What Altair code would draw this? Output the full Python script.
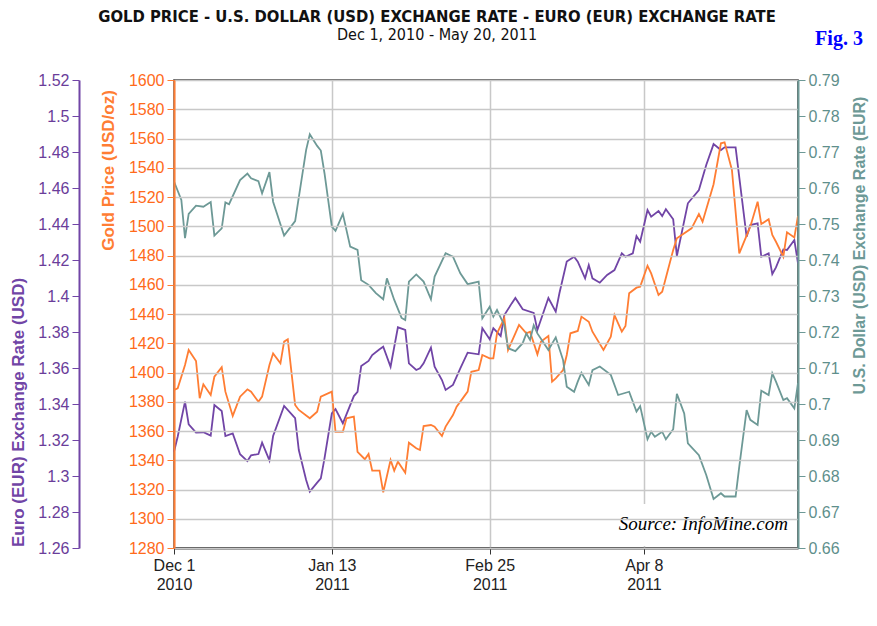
"""Goudprijs met USD- en EUR-wisselkoers, dec 2010 - mei 2011."""

import altair as alt
import pandas as pd

START = pd.Timestamp("2010-12-01")

# dagen sinds 1 dec 2010
gold_days = [0, 1, 3, 4, 6, 7, 8, 10, 11, 13, 14, 16, 18, 20, 21, 23, 24, 26, 27, 29,
             30, 31, 33, 34, 37, 39, 40, 43, 44, 46, 47, 49, 50, 52, 53, 54, 56, 57, 59, 60,
             61, 63, 64, 66, 67, 68, 70, 71, 73, 74, 76, 77, 79, 80, 81, 83, 84, 86, 87, 88,
             90, 91, 93, 94, 96, 97, 99, 100, 102, 103, 104, 106, 107, 108, 110, 111, 113, 114, 117, 119,
             120, 122, 123, 124, 126, 127, 129, 130, 132, 133, 136, 137, 141, 143, 144, 147, 149, 150, 152, 154,
             157, 159, 160, 162, 163, 164, 166, 167, 169, 170]
gold_price = [1388.0, 1389.2, 1405.1, 1415.4, 1407.9, 1382.4, 1391.9, 1384.6, 1397.1, 1403.6,
              1386.9, 1370.3, 1383.5, 1388.5, 1386.9, 1380.0, 1383.5, 1405.1, 1413.1, 1406.3,
              1421.1, 1422.7, 1377.8, 1374.4, 1368.7, 1373.2, 1383.5, 1386.9, 1359.5, 1359.5,
              1368.7, 1369.8, 1345.8, 1340.7, 1344.3, 1332.9, 1332.9, 1318.1, 1340.2, 1332.9,
              1339.0, 1331.5, 1352.0, 1348.2, 1347.0, 1363.4, 1364.1, 1363.0, 1356.6, 1363.0,
              1370.9, 1376.6, 1383.5, 1386.9, 1400.5, 1401.7, 1412.0, 1409.7, 1409.7, 1426.8,
              1437.1, 1415.4, 1426.8, 1432.5, 1426.8, 1427.9, 1412.4, 1421.1, 1425.0, 1393.7,
              1396.0, 1401.7, 1412.0, 1426.8, 1428.4, 1438.2, 1434.7, 1427.9, 1415.4, 1424.5,
              1439.3, 1427.9, 1431.8, 1454.2, 1458.0, 1458.7, 1473.0, 1467.8, 1453.0, 1455.2,
              1483.8, 1491.8, 1498.6, 1508.4, 1503.1, 1528.7, 1556.7, 1557.4, 1538.5, 1481.5,
              1499.7, 1516.8, 1501.5, 1504.8, 1494.0, 1489.4, 1479.2, 1495.9, 1492.4, 1507.0]

eur_days = [0, 1, 3, 4, 6, 8, 10, 11, 13, 14, 16, 18, 20, 21, 23, 24, 26, 27, 30, 33,
            34, 36, 37, 39, 40, 41, 43, 44, 46, 49, 50, 51, 53, 54, 56, 57, 59, 61, 63, 64,
            66, 67, 68, 70, 71, 73, 74, 76, 78, 80, 83, 84, 86, 87, 89, 90, 92, 93, 95, 98,
            99, 102, 104, 105, 107, 109, 110, 112, 113, 114, 116, 118, 120, 122, 123, 125, 126, 127, 129, 130,
            132, 133, 134, 136, 137, 140, 143, 145, 147, 149, 150, 153, 156, 157, 159, 160, 162, 163, 164, 166,
            167, 169, 170]
eur_rate = [1.3135, 1.3218, 1.3413, 1.3287, 1.3241, 1.3243, 1.3224, 1.3394, 1.3361, 1.3222,
            1.3237, 1.3121, 1.3083, 1.3115, 1.3122, 1.3185, 1.3087, 1.3222, 1.3389, 1.3321,
            1.3144, 1.2978, 1.2913, 1.2963, 1.2987, 1.3098, 1.3348, 1.3372, 1.3293, 1.3444,
            1.3468, 1.3611, 1.3639, 1.3672, 1.3704, 1.3718, 1.3607, 1.3826, 1.3811, 1.3626,
            1.3589, 1.3598, 1.3626, 1.3713, 1.3607, 1.3533, 1.3478, 1.3506, 1.3598, 1.3685,
            1.3676, 1.3821, 1.3760, 1.3821, 1.3778, 1.3894, 1.3959, 1.3989, 1.3926, 1.3906,
            1.3811, 1.3989, 1.3913, 1.4015, 1.4191, 1.4218, 1.4191, 1.4098, 1.4172, 1.4098,
            1.4074, 1.4117, 1.4144, 1.4237, 1.4218, 1.4237, 1.4333, 1.4302, 1.4478, 1.4441,
            1.4472, 1.4444, 1.4482, 1.4426, 1.4222, 1.4515, 1.4589, 1.4728, 1.4844, 1.4811,
            1.4826, 1.4826, 1.4329, 1.4394, 1.4404, 1.4218, 1.4237, 1.4122, 1.4159, 1.4259,
            1.4256, 1.4311, 1.4182]

usd_days = [0, 2, 3, 4, 6, 8, 10, 11, 13, 14, 15, 18, 20, 21, 23, 24, 26, 27, 30, 33,
            36, 37, 39, 40, 41, 43, 44, 46, 48, 50, 51, 53, 55, 57, 58, 60, 62, 63, 64, 66,
            68, 70, 71, 74, 76, 78, 80, 83, 84, 86, 87, 88, 90, 91, 93, 95, 96, 97, 98, 99,
            102, 104, 106, 107, 109, 110, 111, 113, 114, 116, 119, 121, 124, 126, 127, 129, 130, 131, 133, 134,
            136, 137, 139, 140, 143, 145, 147, 149, 150, 153, 154, 156, 157, 159, 160, 162, 163, 164, 166, 167,
            169, 170]
usd_rate = [0.7618, 0.7567, 0.7461, 0.7528, 0.7551, 0.7548, 0.7561, 0.7468, 0.7488, 0.7560,
            0.7555, 0.7622, 0.7640, 0.7627, 0.7619, 0.7585, 0.7644, 0.7562, 0.7468, 0.7508,
            0.7706, 0.7749, 0.7717, 0.7704, 0.7641, 0.7493, 0.7481, 0.7528, 0.7437, 0.7428,
            0.7344, 0.7331, 0.7308, 0.7291, 0.7349, 0.7289, 0.7239, 0.7233, 0.7340, 0.7360,
            0.7340, 0.7291, 0.7354, 0.7419, 0.7409, 0.7363, 0.7333, 0.7340, 0.7238, 0.7270,
            0.7243, 0.7261, 0.7219, 0.7155, 0.7147, 0.7169, 0.7196, 0.7178, 0.7219, 0.7196,
            0.7150, 0.7185, 0.7122, 0.7048, 0.7034, 0.7062, 0.7087, 0.7053, 0.7094, 0.7104,
            0.7081, 0.7025, 0.7034, 0.6979, 0.6994, 0.6902, 0.6923, 0.6909, 0.6923, 0.6902,
            0.6930, 0.7028, 0.6974, 0.6891, 0.6858, 0.6803, 0.6736, 0.6752, 0.6743, 0.6743,
            0.6826, 0.6983, 0.6956, 0.6942, 0.7037, 0.7025, 0.7085, 0.7062, 0.7011, 0.7016,
            0.6988, 0.7058]

gold_ticks = [1280, 1300, 1320, 1340, 1360, 1380, 1400, 1420, 1440, 1460, 1480, 1500,
              1520, 1540, 1560, 1580, 1600]
eur_ticks = [1.26, 1.28, 1.3, 1.32, 1.34, 1.36, 1.38, 1.4, 1.42, 1.44, 1.46, 1.48, 1.5, 1.52]
usd_ticks = [0.66, 0.67, 0.68, 0.69, 0.7, 0.71, 0.72, 0.73, 0.74, 0.75, 0.76, 0.77, 0.78, 0.79]
date_ticks = [alt.DateTime(year=2010, month=12, date=1), alt.DateTime(year=2011, month=1, date=13),
              alt.DateTime(year=2011, month=2, date=25), alt.DateTime(year=2011, month=4, date=8)]

TITEL = "GOLD PRICE - U.S. DOLLAR (USD) EXCHANGE RATE - EURO (EUR) EXCHANGE RATE"
ONDERTITEL = "Dec 1, 2010 - May 20, 2011"

PURPLE, PURPLE_TXT = "#7145a6", "#6a3d9a"
ORANGE, ORANGE_TXT = "#ff7d33", "#ff6a1a"
TEAL, TEAL_TXT = "#6d9996", "#5f8f8c"
LABEL_FONT = "Liberation Sans"
NARROW = "Liberation Sans Narrow, DejaVu Sans Condensed, Liberation Sans"


def _reeks(dagen, waarden, kolom):
    return pd.DataFrame({
        "datum": START + pd.to_timedelta(dagen, unit="D"),
        kolom: waarden,
    })


def _tekst(inhoud, x, y, **stijl):
    return alt.Chart(pd.DataFrame({"t": [inhoud]})).mark_text(
        baseline="alphabetic", **stijl
    ).encode(x=alt.value(x), y=alt.value(y), text="t:N")


x_enc = alt.X(
    "datum:T",
    scale=alt.Scale(domain=[alt.DateTime(year=2010, month=12, date=1),
                            alt.DateTime(year=2011, month=5, date=20)]),
    axis=alt.Axis(
        values=date_ticks,
        labelExpr="[timeFormat(datum.value, '%b %-d'), timeFormat(datum.value, '%Y')]",
        title=None, grid=True, gridColor="#c8c8c8", gridWidth=1.5,
        domainColor="#333333", domainWidth=2, tickColor="#333333", tickSize=6,
        labelFont=LABEL_FONT, labelFontSize=16, labelColor="#222222",
        labelLineHeight=19, labelPadding=3, labelFlush=False, labelOverlap=False,
    ),
)


def _y_axis(kleur, tekst, titel, ticks, **extra):
    return alt.Axis(
        values=ticks, title=titel, titleColor=kleur, titleFont=LABEL_FONT,
        titleFontWeight="bold", titleAngle=270,
        titleAlign="center", titleBaseline="middle",
        labelFont=LABEL_FONT, labelFontSize=16, labelColor=tekst, labelPadding=3,
        domainColor=kleur, domainWidth=2, tickColor=kleur, tickSize=7, zindex=1,
        **extra,
    )


eur = alt.Chart(_reeks(eur_days, eur_rate, "eur")).mark_line(
    color=PURPLE, strokeWidth=1.8
).encode(
    x=x_enc,
    y=alt.Y("eur:Q", scale=alt.Scale(domain=[1.26, 1.52], nice=False, zero=False),
            axis=_y_axis(PURPLE, PURPLE_TXT, "Euro (EUR) Exchange Rate (USD)", eur_ticks,
                         orient="left", offset=95, grid=False, format=".2~f",
                         titleFontSize=17, titleX=-61, titleY=332)),
)

gold = alt.Chart(_reeks(gold_days, gold_price, "goud")).mark_line(
    color=ORANGE, strokeWidth=1.8
).encode(
    x=x_enc,
    y=alt.Y("goud:Q", scale=alt.Scale(domain=[1280, 1600], nice=False, zero=False),
            axis=_y_axis(ORANGE, ORANGE_TXT, "Gold Price (USD/oz)", gold_ticks,
                         orient="left", grid=True, gridColor="#c8c8c8", gridWidth=1.5,
                         format="d", titleFontSize=17, titleX=-66, titleY=90)),
)

usd = alt.Chart(_reeks(usd_days, usd_rate, "usd")).mark_line(
    color=TEAL, strokeWidth=1.8
).encode(
    x=x_enc,
    y=alt.Y("usd:Q", scale=alt.Scale(domain=[0.66, 0.79], nice=False, zero=False),
            axis=_y_axis(TEAL, TEAL_TXT, "U.S. Dollar (USD) Exchange Rate (EUR)", usd_ticks,
                         orient="right", grid=False, format=".2~f",
                         titleFontSize=16, titleX=61, titleY=165)),
)

# witte vlak met bronvermelding, over het raster
bron_vlak = alt.Chart(pd.DataFrame({"a": [0]})).mark_rect(color="white").encode(
    x=alt.value(339), x2=alt.value(623), y=alt.value(424), y2=alt.value(466),
)
bron = _tekst("Source: InfoMine.com", 614, 450, font="Liberation Serif",
              fontStyle="italic", fontSize=19, align="right", color="black")
fig = _tekst("Fig. 3", 665, -35, font="Liberation Serif", fontWeight="bold",
             fontSize=20, align="center", color="#0000ff")
titel = _tekst(TITEL, 263, -58, font=NARROW, fontWeight="bold", fontSize=16.5,
               align="center", color="#111111")
ondertitel = _tekst(ONDERTITEL, 263, -40, font=NARROW, fontSize=16,
                    align="center", color="#111111")

chart = alt.layer(eur, gold, usd, bron_vlak, bron, fig, titel, ondertitel).resolve_scale(
    y="independent"
).properties(
    width=624,
    height=468,
    padding={"left": 166, "top": 72, "right": 71, "bottom": 70},
    autosize=alt.AutoSizeParams(type="none"),
).configure_view(stroke="#333333", strokeWidth=1.5)

chart.save("out.html", embed_options={"renderer": "svg", "actions": False})
